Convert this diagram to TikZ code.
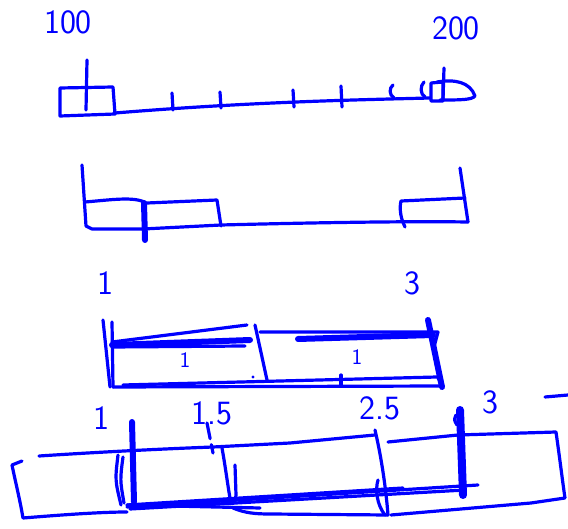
\documentclass[tikz,border=0pt]{standalone}
\usepackage{tikz}
\tikzset{ink/.style={blue,line width=1.6pt,line cap=round,line join=round},
  heavy/.style={blue,line width=3pt,line cap=round},
  num/.style={blue,font=\sffamily\fontsize{17}{17}\selectfont},
  small/.style={blue,font=\sffamily\fontsize{11}{11}\selectfont}}
\newcommand{\tk}[3]{\draw[ink] (#1,#2) -- (#1+1,#3);}

\begin{document}
\begin{tikzpicture}[x=0.5pt,y=-0.5pt]
\useasboundingbox (0,0) rectangle (568,529);
% number line 100 .. 200
\node[num] (hone) at (68,22) {100};
\node[num] (htwo) at (456,28) {200};
\draw[ink] (60,88) -- (113,87) -- (115,114) -- (60,116) -- cycle;
\draw[ink] (87,60) -- (86,110);
\draw[ink] (115,113) .. controls (250,102) and (350,100) .. (430,98);
\tk{172}{93}{110} \tk{220}{92}{108} \tk{293}{90}{107} \tk{341}{86}{107}
\draw[ink] (393,85) .. controls (389,88) and (389,95) .. (394,98);
\draw[ink] (424,82) .. controls (420,86) and (420,94) .. (425,97);
\draw[ink] (431,83) -- (443,82) -- (443,101) -- (431,101) -- cycle;
\draw[ink] (444,68) -- (443,100);
\draw[ink] (437,82) .. controls (455,79) and (470,82) .. (475,96)
  .. controls (472,100) and (460,100) .. (440,100);
% bars
\draw[ink] (82,165) -- (86,226) -- (92,229) -- (143,229) -- (221,225)
  .. controls (300,223) and (400,221) .. (468,222);
\draw[ink] (85,202) .. controls (110,200) and (135,196) .. (146,203);
\draw[heavy] (144,203) -- (145,240);
\draw[ink] (147,203) -- (217,200) -- (221,226);
\draw[ink] (405,227) .. controls (399,215) and (400,205) .. (401,201) -- (465,198);
\draw[ink] (460,168) -- (468,222);
% 1 to 3
\node[num] (lone) at (105,283) {1};
\node[num] (lthree) at (412,283) {3};
\draw[ink] (103,320) -- (110,387);
\draw[ink] (112,322) -- (113,387);
\draw[ink] (112,342) -- (247,325);
\draw[heavy] (112,345) -- (250,340);
\draw[ink] (112,347) -- (245,346);
\draw[ink] (255,325) -- (262,357) -- (267,380);
\draw[ink] (260,332) -- (438,332) -- (434,347);
\draw[heavy] (298,339) -- (433,335);
\draw[heavy] (428,320) -- (442,387);
\draw[ink] (113,387) -- (443,386) -- (438,378);
\draw[ink] (123,385) -- (437,377);
\node[small] (bone) at (185,360) {1};
\node[small] (btwo) at (357,357) {1};
\fill[blue] (253,377) circle (1.6);
\draw[ink] (341,375) -- (341,385);
% 1, 1.5, 2.5, 3
\node[num] (fone) at (101,418) {1};
\node[num] (fonefive) at (212,413) {1.5};
\node[num] (ftwofive) at (380,408) {2.5};
\node[num] (fthree) at (490,402) {3};
\draw[ink] (545,397) -- (568,395);
\draw[ink] (22,461) -- (12,465) .. controls (15,480) and (20,500) .. (23,518)
  .. controls (60,515) and (100,512) .. (127,512);
\draw[ink] (39,456) .. controls (100,452) and (160,449) .. (213,447) -- (290,443) -- (375,435);
\draw[ink] (118,455) .. controls (115,480) .. (121,505);
\draw[ink] (123,457) .. controls (120,480) .. (124,503);
\draw[heavy] (132,422) -- (134,502);
\draw[ink,dash pattern=on 8pt off 3pt] (207,423) -- (213,453);
\draw[ink] (222,448) .. controls (226,470) and (229,495) .. (231,503)
  .. controls (233,506) and (236,500) .. (236,495) -- (235,465);
\draw[ink] (233,508) .. controls (245,513) and (255,514) .. (270,514) -- (388,515);
\draw[ink] (375,430) .. controls (382,460) and (386,490) .. (388,515);
\draw[ink] (378,480) .. controls (375,490) and (377,505) .. (385,515);
\draw[ink] (388,442) -- (458,435) -- (556,432)
  .. controls (560,460) and (563,485) .. (565,498) -- (531,503) -- (391,515);
\draw[blue,line width=4pt,line cap=round] (460,410) -- (463,495);
\draw[ink] (456,415) .. controls (454,420) .. (457,425);
\draw[ink] (127,505) -- (403,488);
\draw[ink] (127,507) -- (478,485);
\draw[ink] (130,509) -- (465,490);
\draw[ink] (127,505) -- (260,508);
\end{tikzpicture}
\end{document}
